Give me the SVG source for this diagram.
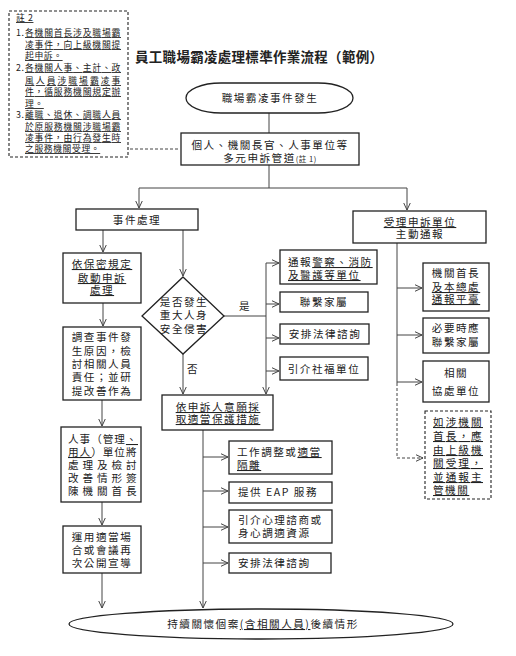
<svg xmlns="http://www.w3.org/2000/svg" width="516" height="656" viewBox="0 0 516 656">
<style>
text{font-family:"Noto Sans CJK TC","Noto Sans CJK SC",sans-serif;fill:#222;}
.t{font-size:10.6px;letter-spacing:1.5px;}
.c{text-anchor:middle;}
.n{font-size:8.8px;letter-spacing:0.6px;}
.u{text-decoration:underline;}
.box{fill:#fff;stroke:#222;stroke-width:1.3;}
.dbox{fill:#fff;stroke:#222;stroke-width:1.1;stroke-dasharray:3 2;}
.ln{fill:none;stroke:#444;stroke-width:1;}
.ar{fill:none;stroke:#444;stroke-width:1;marker-end:url(#a);}
.dl{fill:none;stroke:#444;stroke-width:1;stroke-dasharray:3 2;}
</style>
<defs>
<marker id="a" viewBox="0 0 8 8" refX="7.5" refY="4" markerWidth="8" markerHeight="8" markerUnits="userSpaceOnUse" orient="auto">
<path d="M0,0.5 L7.5,4 L0,7.5" fill="none" stroke="#444" stroke-width="1"/>
</marker>
</defs>
<rect width="516" height="656" fill="#fff"/>

<g id="note">
<rect class="dbox" x="9" y="11" width="119" height="146"/>
<text class="n" x="16" y="21"><tspan class="u">註 2</tspan></text>
<text class="n" x="16" y="36">1.</text>
<text class="n u" x="25" y="36" textLength="96" lengthAdjust="spacing">各機關首長涉及職場霸</text>
<text class="n u" x="25" y="48" textLength="96" lengthAdjust="spacing">凌事件，向上級機關提</text>
<text class="n u" x="25" y="59">起申訴。</text>
<text class="n" x="16" y="71">2.</text>
<text class="n u" x="25" y="71" textLength="96" lengthAdjust="spacing">各機關人事、主計、政</text>
<text class="n u" x="25" y="84" textLength="96" lengthAdjust="spacing">風人員涉職場霸凌事</text>
<text class="n u" x="25" y="95" textLength="96" lengthAdjust="spacing">件，循服務機關規定辦</text>
<text class="n u" x="25" y="107">理。</text>
<text class="n" x="16" y="118">3.</text>
<text class="n u" x="25" y="118" textLength="96" lengthAdjust="spacing">離職、退休、調職人員</text>
<text class="n u" x="25" y="130" textLength="96" lengthAdjust="spacing">於原服務機關涉職場霸</text>
<text class="n u" x="25" y="141" textLength="96" lengthAdjust="spacing">凌事件，由行為發生時</text>
<text class="n u" x="25" y="152">之服務機關受理。</text>
</g>

<g id="title">
<text x="135" y="62" font-size="13.5" font-weight="bold" textLength="248" lengthAdjust="spacing">員工職場霸凌處理標準作業流程（範例）</text>
</g>

<g id="connectors">
<line class="dl" x1="130" y1="149" x2="180" y2="149"/>
<line class="ln" x1="269" y1="113" x2="269" y2="133"/>
<line class="ln" x1="269" y1="165" x2="269" y2="188"/>
<line class="ln" x1="139" y1="188" x2="407" y2="188"/>
<line class="ar" x1="139" y1="188" x2="139" y2="208"/>
<line class="ar" x1="407" y1="188" x2="407" y2="210"/>
<line class="ar" x1="103" y1="230" x2="103" y2="252"/>
<line class="ar" x1="183" y1="230" x2="183" y2="276"/>
<line class="ar" x1="103" y1="303" x2="103" y2="326"/>
<line class="ln" x1="224" y1="316" x2="266" y2="316"/>
<line class="ar" x1="266" y1="263" x2="266" y2="394"/>
<line class="ar" x1="266" y1="263" x2="279" y2="263"/>
<line class="ar" x1="266" y1="304" x2="279" y2="304"/>
<line class="ar" x1="266" y1="338" x2="279" y2="338"/>
<line class="ar" x1="266" y1="371" x2="279" y2="371"/>
<line class="ar" x1="183" y1="354" x2="183" y2="394"/>
<line class="ar" x1="102" y1="400" x2="102" y2="426"/>
<line class="ar" x1="102" y1="502" x2="102" y2="525"/>
<line class="ar" x1="102" y1="573" x2="102" y2="608"/>
<line class="ar" x1="203" y1="430" x2="203" y2="608"/>
<line class="ar" x1="203" y1="457" x2="228" y2="457"/>
<line class="ar" x1="203" y1="491" x2="228" y2="491"/>
<line class="ar" x1="203" y1="527" x2="228" y2="527"/>
<line class="ar" x1="203" y1="563" x2="228" y2="563"/>
<line class="ln" x1="397" y1="243" x2="397" y2="383"/>
<path class="dl" d="M397,383 V458 H423" marker-end="url(#a)"/>
<line class="ar" x1="397" y1="288" x2="422" y2="288"/>
<line class="ar" x1="397" y1="335" x2="422" y2="335"/>
<line class="ar" x1="397" y1="382" x2="422" y2="382"/>
<text class="t" x="239" y="310">是</text>
<text class="t" x="187" y="373">否</text>
</g>

<g id="start">
<rect class="box" x="186" y="83" width="167" height="30" rx="35" ry="15"/>
<text class="t c" x="270" y="102">職場霸凌事件發生</text>
</g>

<g id="channels">
<rect class="box" x="181" y="133" width="178" height="32"/>
<text class="t c" x="270" y="149">個人、機關長官、人事單位等</text>
<text class="t c" x="270" y="162">多元申訴管道<tspan font-size="7.5" letter-spacing="0.5">(註 1)</tspan></text>
</g>

<g id="handle">
<rect class="box" x="76" y="209" width="122" height="21"/>
<text class="t c" x="137" y="224">事件處理</text>
</g>

<g id="accept">
<rect class="box" x="353" y="211" width="133" height="32"/>
<text class="t c u" x="420" y="226">受理申訴單位</text>
<text class="t c" x="420" y="238">主動通報</text>
</g>

<g id="confidential">
<rect class="box" x="63" y="253" width="78" height="50"/>
<text class="t c u" x="102" y="268">依保密規定</text>
<text class="t c u" x="102" y="282">啟動申訴</text>
<text class="t c u" x="102" y="294">處理</text>
</g>

<g id="investigate">
<rect class="box" x="63" y="327" width="78" height="73"/>
<text class="t c" x="102" y="341">調查事件發</text>
<text class="t c" x="102" y="355">生原因，檢</text>
<text class="t c" x="102" y="368">討相關人員</text>
<text class="t c" x="102" y="381">責任；並研</text>
<text class="t c" x="102" y="395">提改善作為</text>
</g>

<g id="report">
<rect class="box" x="61" y="427" width="80" height="75"/>
<text class="t" x="68" y="443" textLength="70" lengthAdjust="spacing">人事（管理<tspan class="u">、</tspan></text>
<text class="t" x="68" y="456" textLength="70" lengthAdjust="spacing"><tspan class="u">用人</tspan>）單位將</text>
<text class="t" x="68" y="469" textLength="70" lengthAdjust="spacing">處理及檢討</text>
<text class="t" x="68" y="482" textLength="70" lengthAdjust="spacing">改善情形簽</text>
<text class="t" x="68" y="495" textLength="70" lengthAdjust="spacing">陳機關首長</text>
</g>

<g id="publicize">
<rect class="box" x="63" y="526" width="78" height="47"/>
<text class="t c" x="102" y="541">運用適當場</text>
<text class="t c" x="102" y="554">合或會議再</text>
<text class="t c" x="102" y="567">次公開宣導</text>
</g>

<g id="decision">
<polygon class="box" points="183,277 224,316 183,354 142,316"/>
<text class="t c" x="184" y="306">是否發生</text>
<text class="t c" x="184" y="319">重大人身</text>
<text class="t c" x="184" y="333">安全侵害</text>
</g>

<g id="police">
<rect class="box" x="280" y="250" width="97" height="34"/>
<text class="t" x="288" y="266">通報<tspan class="u">警察、消防</tspan></text>
<text class="t u" x="288" y="279">及醫護等單位</text>
</g>
<g id="family1">
<rect class="box" x="280" y="292" width="88" height="20"/>
<text class="t c" x="324" y="306">聯繫家屬</text>
</g>
<g id="legal1">
<rect class="box" x="280" y="324" width="89" height="20"/>
<text class="t c" x="325" y="338">安排法律諮詢</text>
</g>
<g id="welfare">
<rect class="box" x="280" y="357" width="88" height="23"/>
<text class="t c" x="324" y="373">引介社福單位</text>
</g>

<g id="head">
<rect class="box" x="423" y="263" width="66" height="48"/>
<text class="t c" x="456" y="277">機關首長</text>
<text class="t c u" x="456" y="291">及本總處</text>
<text class="t c u" x="456" y="303">通報平臺</text>
</g>
<g id="family2">
<rect class="box" x="423" y="318" width="66" height="35"/>
<text class="t c" x="456" y="332">必要時應</text>
<text class="t c" x="456" y="346">聯繫家屬</text>
</g>
<g id="assist">
<rect class="box" x="423" y="361" width="66" height="41"/>
<text class="t c" x="456" y="377">相關</text>
<text class="t c" x="456" y="395">協處單位</text>
</g>
<g id="superior">
<rect class="dbox" x="425" y="411" width="66" height="88"/>
<text class="t u" x="433" y="426" textLength="50" lengthAdjust="spacing">如涉機關</text>
<text class="t u" x="433" y="440" textLength="50" lengthAdjust="spacing">首長，應</text>
<text class="t u" x="433" y="454" textLength="50" lengthAdjust="spacing">由上級機</text>
<text class="t u" x="433" y="467" textLength="50" lengthAdjust="spacing">關受理，</text>
<text class="t u" x="433" y="481" textLength="50" lengthAdjust="spacing">並通報主</text>
<text class="t u" x="433" y="494">管機關</text>
</g>

<g id="protect">
<rect class="box" x="162" y="395" width="111" height="35"/>
<text class="t c u" x="218" y="411">依申訴人意願採</text>
<text class="t c u" x="218" y="423">取適當保護措施</text>
</g>

<g id="adjust">
<rect class="box" x="229" y="441" width="103" height="33"/>
<text class="t" x="237" y="456">工作調整或<tspan class="u">適當</tspan></text>
<text class="t u" x="237" y="469">隔離</text>
</g>
<g id="eap">
<rect class="box" x="229" y="482" width="103" height="21"/>
<text class="t" x="238" y="496">提供 EAP 服務</text>
</g>
<g id="counsel">
<rect class="box" x="229" y="510" width="103" height="33"/>
<text class="t" x="238" y="524">引介心理諮商或</text>
<text class="t" x="238" y="537">身心調適資源</text>
</g>
<g id="legal2">
<rect class="box" x="229" y="553" width="102" height="20"/>
<text class="t" x="238" y="567">安排法律諮詢</text>
</g>

<g id="end">
<ellipse class="box" cx="261" cy="624" rx="192" ry="15"/>
<text class="t c" x="263" y="628">持續關懷個案<tspan class="u">(含相關人員)</tspan>後續情形</text>
</g>
</svg>
